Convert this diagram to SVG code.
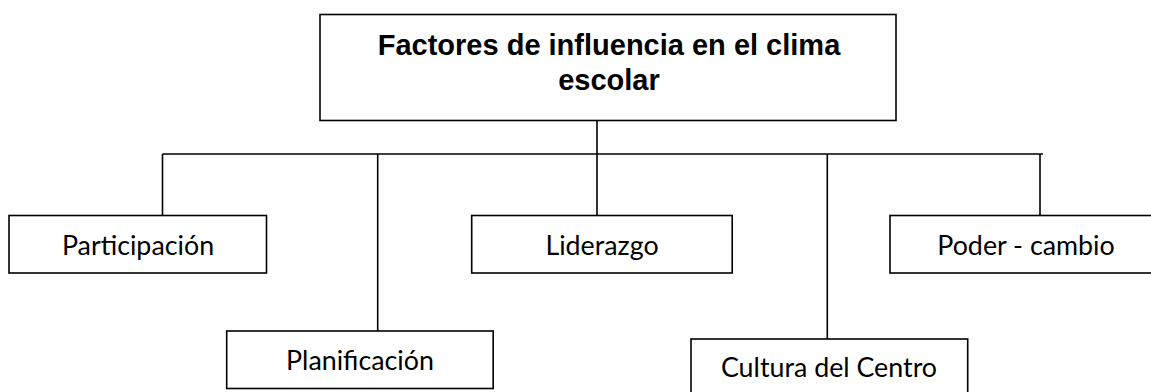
<svg xmlns="http://www.w3.org/2000/svg" width="1151" height="392" viewBox="0 0 1151 392">
<style>
.box{fill:#fff;stroke:#000;stroke-width:1.6}
.ln{stroke:#000;stroke-width:1.6;fill:none}
.title{font-family:"Liberation Sans",Arial,sans-serif;font-weight:bold;font-size:29px;fill:#000;text-anchor:middle}
.lbl{font-family:Lato,"Open Sans",sans-serif;font-size:26.8px;fill:#000;text-anchor:middle}
</style>
<rect width="1151" height="392" fill="#fff"/>
<g id="connectors">
<path class="ln" d="M597 120.5V215.5M162.5 154H1043M162.5 154V215.5M377.7 154V331M827.3 154V339M1040 154V215.5"/>
</g>
<g id="title">
<rect class="box" x="320" y="14.5" width="576" height="106"/>
<text class="title" x="609" y="55">Factores de influencia en el clima</text>
<text class="title" x="609" y="90">escolar</text>
</g>
<g id="participacion">
<rect class="box" x="9" y="215.5" width="257.5" height="57.5"/>
<text class="lbl" x="138" y="255">Participación</text>
</g>
<g id="planificacion">
<rect class="box" x="226.7" y="331" width="266.5" height="57.5"/>
<text class="lbl" x="360" y="370">Planificación</text>
</g>
<g id="liderazgo">
<rect class="box" x="471.7" y="215.5" width="260.5" height="57.5"/>
<text class="lbl" x="602" y="255">Liderazgo</text>
</g>
<g id="cultura">
<rect class="box" x="691" y="339" width="276.7" height="60"/>
<text class="lbl" x="829" y="377">Cultura del Centro</text>
</g>
<g id="poder">
<rect class="box" x="890" y="215.5" width="275" height="57.5"/>
<text class="lbl" x="1026" y="255">Poder - cambio</text>
</g>
</svg>
